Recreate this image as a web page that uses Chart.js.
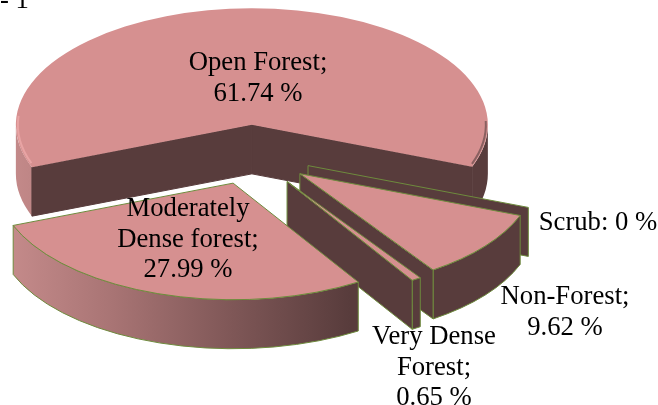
<!DOCTYPE html>
<html lang="en">
<head>
    <meta charset="UTF-8">
    <title>Forest cover</title>
    <script src="https://cdn.jsdelivr.net/npm/chart.js"></script>
    <style>
        html, body { margin: 0; padding: 0; background: #fff; overflow: hidden; }
        canvas { display: block; }
    </style>
</head>
<body>
    <canvas id="pie" width="658" height="405"></canvas>

    <script>
        // drawn clockwise from the start angle, Scrub is the empty slice
        const categories = ['Non-Forest', 'Very Dense Forest', 'Moderately Dense forest', 'Open Forest', 'Scrub'];
        const shares = [9.62, 0.65, 27.99, 61.74, 0];
        const labelLines = [
            ['Non-Forest;', '9.62 %'],
            ['Very Dense', 'Forest;', '0.65 %'],
            ['Moderately', 'Dense forest;', '27.99 %'],
            ['Open Forest;', '61.74 %'],
            ['Scrub: 0 %']
        ];
        // how far each slice is pulled out, in px on the flattened view's x axis
        const explode = [61, 64, 60, 61, 60];

        // where each label goes: centre x, first baseline y
        const labelPos = [[565, 304], [434, 344], [188, 216], [258, 70], [598, 230]];

        // fake 3d view
        const CX = 252, CY = 155, RX = 236, RY = 116.6, DEPTH = 49;
        const TOP = '#d69090', DARK = '#583c3c', EDGE = '#6e8b3d';

        function view(arc, i) {
            const mid = (arc.startAngle + arc.endAngle) / 2;
            return {
                sx: RX / arc.outerRadius,
                sy: RY / arc.outerRadius,
                x: CX + Math.cos(mid) * explode[i],
                y: CY + Math.sin(mid) * explode[i] * RY / RX
            };
        }

        function cutFace(ctx, v, angle) {
            const ex = v.x + Math.cos(angle) * RX, ey = v.y + Math.sin(angle) * RY;
            ctx.beginPath();
            ctx.moveTo(v.x, v.y);
            ctx.lineTo(ex, ey);
            ctx.lineTo(ex, ey + DEPTH);
            ctx.lineTo(v.x, v.y + DEPTH);
            ctx.closePath();
        }

        function rimWall(ctx, v, from, to) {
            ctx.beginPath();
            ctx.ellipse(v.x, v.y, RX, RY, 0, from, to);
            ctx.ellipse(v.x, v.y + DEPTH, RX, RY, 0, to, from, true);
            ctx.closePath();
        }

        const pie3d = {
            id: 'pie3d',
            beforeDatasetsDraw(chart) {
                const ctx = chart.ctx;
                const arcs = chart.getDatasetMeta(0).data;
                const order = [3, 4, 0, 1, 2];
                const TAU = Math.PI * 2;

                const rimFill = ctx.createLinearGradient(12, 0, 350, 0);
                rimFill.addColorStop(0, '#c48a8a');
                rimFill.addColorStop(0.3, '#a87474');
                rimFill.addColorStop(0.65, '#7f5757');
                rimFill.addColorStop(1, DARK);

                order.forEach(function(i) {
                    const arc = arcs[i];
                    const v = view(arc, i);
                    const a0 = arc.startAngle, a1 = arc.endAngle;
                    const outlined = i !== 3;
                    ctx.save();
                    ctx.lineWidth = 1;

                    // outer wall, only the part facing us
                    ctx.strokeStyle = EDGE;
                    [[0, Math.PI], [TAU, TAU + Math.PI]].forEach(function(w) {
                        const from = Math.max(a0, w[0]), to = Math.min(a1, w[1]);
                        if (to <= from) return;
                        rimWall(ctx, v, from, to);
                        ctx.fillStyle = rimFill;
                        ctx.fill();
                        if (outlined) ctx.stroke();
                    });

                    // cut faces, the big slice gets a dark stroke to hide the seam
                    ctx.strokeStyle = outlined ? EDGE : DARK;
                    [[a0, Math.cos(a0) < 0], [a1, Math.cos(a1) > 0]].forEach(function(f) {
                        if (!f[1]) return;
                        cutFace(ctx, v, f[0]);
                        ctx.fillStyle = DARK;
                        ctx.fill();
                        ctx.stroke();
                    });
                    ctx.strokeStyle = EDGE;

                    // top face comes from the library's own arc
                    if (a1 > a0) {
                        ctx.save();
                        ctx.translate(v.x, v.y);
                        ctx.scale(v.sx, v.sy);
                        ctx.translate(-arc.x, -arc.y);
                        arc.draw(ctx, chart.chartArea);
                        ctx.restore();
                    }

                    if (outlined && a1 > a0) {
                        ctx.beginPath();
                        ctx.moveTo(v.x, v.y);
                        ctx.ellipse(v.x, v.y, RX, RY, 0, a0, a1);
                        ctx.closePath();
                        ctx.stroke();
                    }

                    // soft bevel on the big slice
                    if (i === 3) {
                        ctx.lineWidth = 2;
                        ctx.strokeStyle = '#e8a4a4';
                        ctx.beginPath();
                        ctx.ellipse(v.x, v.y, RX - 2, RY - 2, 0, a0 + 0.03, a0 + 0.45);
                        ctx.stroke();
                        ctx.strokeStyle = '#8a6060';
                        ctx.beginPath();
                        ctx.ellipse(v.x, v.y, RX - 2, RY - 2, 0, a1 - 0.4, a1 - 0.02);
                        ctx.stroke();
                    }
                    ctx.restore();
                });
                return false;
            },
            afterDraw(chart) {
                const ctx = chart.ctx;
                ctx.save();
                ctx.font = '26.7px "Liberation Serif"';
                ctx.fillStyle = '#000';
                ctx.textAlign = 'center';
                ctx.textBaseline = 'alphabetic';
                labelLines.forEach(function(lines, i) {
                    lines.forEach(function(line, n) {
                        ctx.fillText(line, labelPos[i][0], labelPos[i][1] + n * 30.5);
                    });
                });
                ctx.textAlign = 'left';
                ctx.fillText('- 1', 0, 8);
                ctx.restore();
            }
        };

        new Chart(document.getElementById('pie'), {
            type: 'pie',
            data: {
                labels: categories,
                datasets: [{
                    data: shares,
                    backgroundColor: TOP,
                    borderWidth: 0
                }]
            },
            options: {
                responsive: false,
                animation: false,
                rotation: 111,
                layout: { padding: 0 },
                plugins: {
                    legend: { display: false },
                    tooltip: { enabled: false }
                }
            },
            plugins: [pie3d]
        });
    </script>
</body>
</html>
